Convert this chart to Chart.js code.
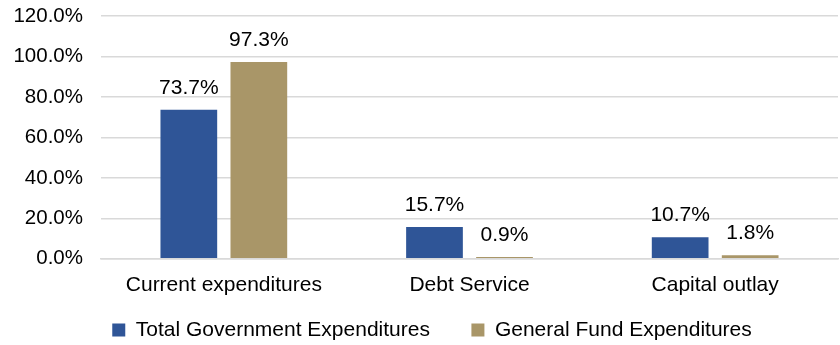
<!DOCTYPE html>
<html>
<head>
<meta charset="utf-8">
<script src="https://cdn.jsdelivr.net/npm/chart.js@4"></script>
<style>
  html, body { margin: 0; padding: 0; background: #fff; }
  #wrap { width: 840px; height: 345px; }
</style>
</head>
<body>
<div id="wrap"><canvas id="chart"></canvas></div>
<script>
const categories = ['Current expenditures', 'Debt Service', 'Capital outlay'];
const totalGovernment = [73.7, 15.7, 10.7];
const generalFund = [97.3, 0.9, 1.8];
const seriesNames = ['Total Government Expenditures', 'General Fund Expenditures'];
const yTicks = [0, 20, 40, 60, 80, 100, 120];

const FONT = "'Liberation Sans', Arial, sans-serif";

// Draw value labels above every bar
const valueLabels = {
  id: 'valueLabels',
  afterDatasetsDraw(chart) {
    const ctx = chart.ctx;
    ctx.save();
    ctx.font = `21px ${FONT}`;
    ctx.fillStyle = '#000';
    ctx.textAlign = 'center';
    ctx.textBaseline = 'alphabetic';
    chart.data.datasets.forEach((dataset, i) => {
      chart.getDatasetMeta(i).data.forEach((bar, j) => {
        ctx.fillText(dataset.data[j].toFixed(1) + '%', bar.x, bar.y - 16);
      });
    });
    ctx.restore();
  },
};

// Legend in the original sits a little right of centre and closer to the axis
const legendShift = {
  id: 'legendShift',
  afterLayout(chart) {
    const legend = chart.legend;
    legend.left += 7;
    legend.right += 7;
    legend.top -= 26;
    legend.bottom -= 26;
  },
};

new Chart(document.getElementById('chart'), {
  type: 'bar',
  data: {
    labels: categories,
    datasets: [
      {
        label: seriesNames[0],
        data: totalGovernment,
        backgroundColor: '#2F5597',
        categoryPercentage: 0.57,
        barPercentage: 0.81,
      },
      {
        label: seriesNames[1],
        data: generalFund,
        backgroundColor: '#A99668',
        categoryPercentage: 0.57,
        barPercentage: 0.81,
      },
    ],
  },
  options: {
    responsive: true,
    maintainAspectRatio: false,
    animation: false,
    layout: { padding: { left: 12, right: 2, top: 0, bottom: -31.5 } },
    scales: {
      x: {
        grid: { display: false },
        border: { color: '#D9D9D9', width: 1.5 },
        ticks: { color: '#000', font: { family: FONT, size: 21 }, padding: 6 },
      },
      y: {
        min: 0,
        max: 120,
        afterBuildTicks: (axis) => {
          axis.ticks = yTicks.map((v) => ({ value: v }));
        },
        afterFit: (axis) => {
          axis.width = 89;
          axis.paddingTop = 16;
        },
        grid: { color: '#D9D9D9', lineWidth: 1.5, drawTicks: false },
        border: { display: false },
        ticks: {
          color: '#000',
          font: { family: FONT, size: 20.5 },
          padding: 18,
          callback: (value) => value.toFixed(1) + '%',
        },
      },
    },
    plugins: {
      legend: {
        position: 'bottom',
        labels: {
          color: '#000',
          font: { family: FONT, size: 21 },
          boxWidth: 13,
          boxHeight: 13,
          padding: 41.5,
        },
      },
      tooltip: { enabled: false },
    },
  },
  plugins: [valueLabels, legendShift],
});
</script>
</body>
</html>
